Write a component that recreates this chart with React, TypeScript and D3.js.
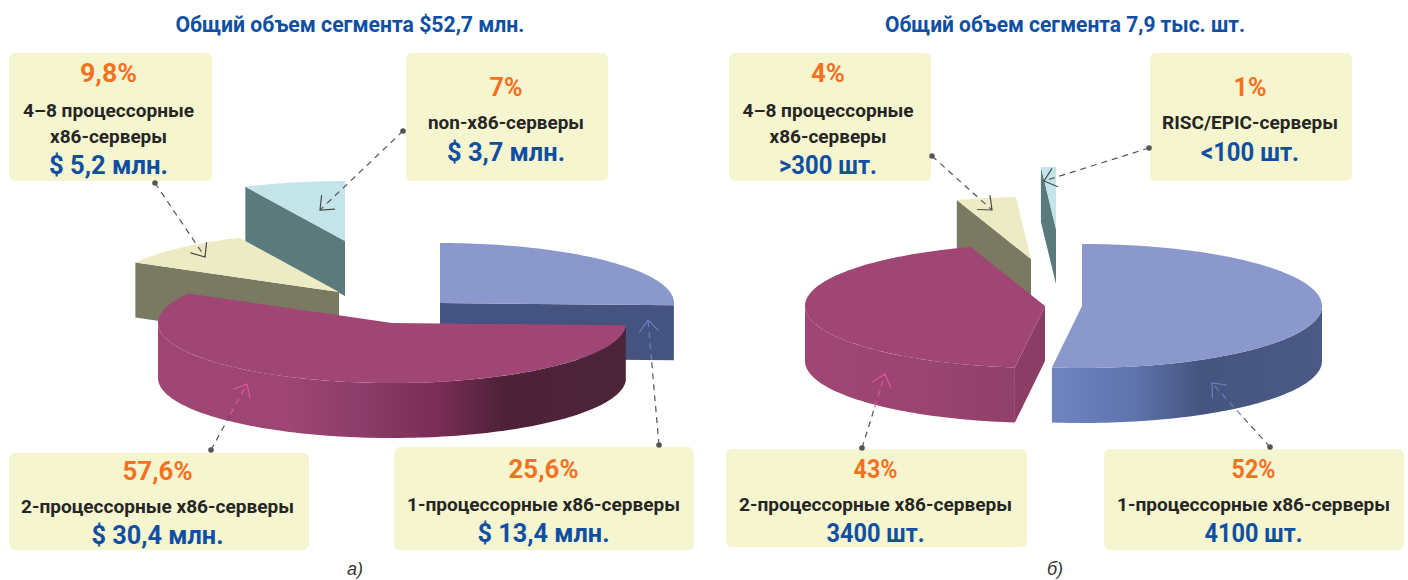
import React from "react";
import * as d3 from "d3";

// ---- data ----
const sharesA = [25.6, 57.6, 9.8, 7];
const sharesB = [52, 43, 4, 1];
const percentA = ["25,6%", "57,6%", "9,8%", "7%"];
const percentB = ["52%", "43%", "4%", "1%"];
const valuesA = ["$ 13,4 млн.", "$ 30,4 млн.", "$ 5,2 млн.", "$ 3,7 млн."];
const valuesB = ["4100 шт.", "3400 шт.", ">300 шт.", "<100 шт."];
const labelsA = [
  ["1-процессорные х86-серверы"],
  ["2-процессорные х86-серверы"],
  ["4–8 процессорные", "х86-серверы"],
  ["non-x86-серверы"],
];
const labelsB = [
  ["1-процессорные х86-серверы"],
  ["2-процессорные х86-серверы"],
  ["4–8 процессорные", "х86-серверы"],
  ["RISC/EPIC-серверы"],
];
const titleA = "Общий объем сегмента $52,7 млн.";
const titleB = "Общий объем сегмента 7,9 тыс. шт.";

// ---- layout ----
const FONT = "Roboto, 'Liberation Sans', sans-serif";
const BLUE_TEXT = "#0f4fa3";
const ORANGE = "#f4711f";
const DARK = "#252525";
const BOX = "#f5f5cf";
const ARROW = "#555";
const PINK = "#e0559f";
const ARROW_BLUE = "#6a7fc4";

const topColors = ["#8a98cb", "#a04674", "#ecebc4", "#c3e5e9"];
const wallColors = ["#44537f", "#8c3d66", "#7a7a62", "#5a7a7c"];

type Stop = [number, string];
const sideStopsA: Stop[][] = [
  [[0, "#44537f"], [1, "#44537f"]],
  [[0, "#a04674"], [0.28, "#9e4573"], [0.45, "#8a3c68"], [0.6, "#7a2c55"], [0.74, "#4e2239"], [1, "#4c2539"]],
  [[0, "#7a7a62"], [1, "#7a7a62"]],
  [[0, "#5a7a7c"], [1, "#5a7a7c"]],
];
const sideStopsB: Stop[][] = [
  [[0, "#6f85c1"], [0.3, "#5f74ad"], [0.55, "#46557f"], [1, "#4a5a85"]],
  [[0, "#a04674"], [0.6, "#9a4471"], [1, "#8f4069"]],
  [[0, "#7a7a62"], [1, "#7a7a62"]],
  [[0, "#5a7a7c"], [1, "#5a7a7c"]],
];

type Pt = [number, number];
interface BoxLayout {
  x: number; y: number; w: number; h: number; tx: number;
  pctY: number; pctW: number;
  labelY: number[]; labelW: number[];
  valueY: number; valueW: number;
}
interface PieLayout {
  id: string;
  shares: number[];
  percents: string[];
  values: string[];
  labels: string[][];
  sideStops: Stop[][];
  rx: number;
  ry: number;
  depth: number;
  centers: Pt[];
  order: number[];
  boxes: BoxLayout[];
  arrows: { from: Pt; to: Pt; split?: number; color?: string }[];
  title: string;
  titleX: number;
  titleLen: number;
  caption: string;
  captionX: number;
}

const pies: PieLayout[] = [
  {
    id: "a",
    shares: sharesA,
    percents: percentA,
    values: valuesA,
    labels: labelsA,
    sideStops: sideStopsA,
    rx: 234,
    ry: 60,
    depth: 55,
    centers: [[440, 303], [392, 323], [339, 292], [345, 241]],
    order: [3, 2, 0, 1],
    boxes: [
      { x: 394, y: 447, w: 300, h: 103, tx: 543.5, pctY: 478, pctW: 70, labelY: [511], labelW: [273], valueY: 542, valueW: 132 },
      { x: 9, y: 453, w: 300, h: 97, tx: 157.5, pctY: 480, pctW: 70, labelY: [513], labelW: [273], valueY: 544, valueW: 132 },
      { x: 9, y: 53, w: 203, h: 128, tx: 108.5, pctY: 82, pctW: 57, labelY: [117, 143], labelW: [171, 117], valueY: 174, valueW: 119 },
      { x: 406, y: 53, w: 202, h: 128, tx: 506, pctY: 96, pctW: 33, labelY: [129], labelW: [156], valueY: 161, valueW: 118 },
    ],
    arrows: [
      { from: [659, 445], to: [648, 320], split: 0.68, color: ARROW_BLUE },
      { from: [211, 450], to: [247, 384], split: 0.55, color: PINK },
      { from: [155, 183], to: [205, 257] },
      { from: [403, 131], to: [320, 210] },
    ],
    title: titleA,
    titleX: 350,
    titleLen: 349,
    caption: "а)",
    captionX: 355,
  },
  {
    id: "b",
    shares: sharesB,
    percents: percentB,
    values: valuesB,
    labels: labelsB,
    sideStops: sideStopsB,
    rx: 240,
    ry: 62,
    depth: 55,
    centers: [[1082, 306], [1045, 306], [1031, 259], [1056, 229]],
    order: [3, 2, 1, 0],
    boxes: [
      { x: 1104, y: 449, w: 300, h: 101, tx: 1253.5, pctY: 478, pctW: 44, labelY: [511], labelW: [273], valueY: 542, valueW: 98 },
      { x: 726, y: 449, w: 301, h: 98, tx: 875.5, pctY: 478, pctW: 44, labelY: [511], labelW: [273], valueY: 542, valueW: 98 },
      { x: 729, y: 53, w: 202, h: 128, tx: 828, pctY: 82, pctW: 34, labelY: [117, 143], labelW: [171, 117], valueY: 174, valueW: 98 },
      { x: 1150, y: 53, w: 202, h: 128, tx: 1250, pctY: 96, pctW: 33, labelY: [129], labelW: [176], valueY: 161, valueW: 98 },
    ],
    arrows: [
      { from: [1270, 447], to: [1212, 383], split: 0.5, color: ARROW_BLUE },
      { from: [862, 448], to: [885, 374], split: 0.55, color: PINK },
      { from: [932, 156], to: [992, 210] },
      { from: [1149, 148], to: [1044, 181] },
    ],
    title: titleB,
    titleX: 1065,
    titleLen: 360,
    caption: "б)",
    captionX: 1055,
  },
];

const pt = (c: Pt, rx: number, ry: number, a: number, dy = 0): Pt => [
  c[0] + rx * Math.sin(a),
  c[1] - ry * Math.cos(a) + dy,
];
const line = d3.line<Pt>();
const arcPts = (c: Pt, rx: number, ry: number, a0: number, a1: number, dy = 0): Pt[] => {
  const n = Math.max(2, Math.ceil(Math.abs(a1 - a0) * 40));
  return d3.range(n + 1).map((i) => pt(c, rx, ry, a0 + ((a1 - a0) * i) / n, dy));
};

function Slice({ p, i, arc }: { p: PieLayout; i: number; arc: d3.PieArcDatum<number> }) {
  const c = p.centers[i];
  const { rx, ry, depth } = p;
  const a0 = arc.startAngle;
  const a1 = arc.endAngle;
  const walls: Pt[][] = [];
  if (Math.sin(a0) < -1e-6) {
    const e = pt(c, rx, ry, a0);
    walls.push([c, e, [e[0], e[1] + depth], [c[0], c[1] + depth]]);
  }
  if (Math.sin(a1) > 1e-6) {
    const e = pt(c, rx, ry, a1);
    walls.push([c, e, [e[0], e[1] + depth], [c[0], c[1] + depth]]);
  }
  const s0 = Math.max(a0, Math.PI / 2);
  const s1 = Math.min(a1, (3 * Math.PI) / 2);
  let side: Pt[] | null = null;
  if (s1 > s0) {
    side = [...arcPts(c, rx, ry, s0, s1), ...arcPts(c, rx, ry, s1, s0, depth)];
  }
  const top: Pt[] = [c, ...arcPts(c, rx, ry, a0, a1)];
  const gid = `side-${p.id}-${i}`;
  const xs = side ? (d3.extent(side, (d) => d[0]) as [number, number]) : [0, 1];
  return (
    <g>
      <defs>
        <linearGradient id={gid} gradientUnits="userSpaceOnUse" x1={xs[0]} x2={xs[1]} y1={0} y2={0}>
          {p.sideStops[i].map(([o, col]) => (
            <stop key={o} offset={o} stopColor={col} />
          ))}
        </linearGradient>
      </defs>
      {walls.map((w, k) => (
        <path key={k} d={line(w) + "Z"} fill={wallColors[i]} />
      ))}
      {side && <path d={line(side) + "Z"} fill={`url(#${gid})`} />}
      <path d={line(top) + "Z"} fill={topColors[i]} />
    </g>
  );
}

function Arrow({ a }: { a: PieLayout["arrows"][number] }) {
  const [x0, y0] = a.from;
  const [x1, y1] = a.to;
  const ang = Math.atan2(y1 - y0, x1 - x0);
  const L = 15;
  const hx = (d: number) => x1 - L * Math.cos(ang + d);
  const hy = (d: number) => y1 - L * Math.sin(ang + d);
  const split = a.split ?? 1;
  const xm = x0 + (x1 - x0) * split;
  const ym = y0 + (y1 - y0) * split;
  const col = a.color ?? "#4a4a4a";
  return (
    <g fill="none" strokeLinecap="butt">
      <circle cx={x0} cy={y0} r={2.8} fill={ARROW} />
      <line x1={x0} y1={y0} x2={xm} y2={ym} stroke={ARROW} strokeWidth={1.2} strokeDasharray="6 5" />
      {split < 1 && <line x1={xm} y1={ym} x2={x1} y2={y1} stroke={col} strokeWidth={1.2} strokeDasharray="6 5" />}
      <path d={`M${hx(0.7)},${hy(0.7)}L${x1},${y1}L${hx(-0.7)},${hy(-0.7)}`} stroke={col} strokeWidth={1.2} />
    </g>
  );
}

function Fit(props: { x: number; y: number; w: number; size: number; fill: string; children: string }) {
  return (
    <text
      x={props.x}
      y={props.y}
      textAnchor="middle"
      fontFamily={FONT}
      fontWeight={700}
      fontSize={props.size}
      fill={props.fill}
      textLength={props.w}
      lengthAdjust="spacingAndGlyphs"
    >
      {props.children}
    </text>
  );
}

function Pie3D({ p }: { p: PieLayout }) {
  const arcs = d3.pie<number>().sort(null).value((d) => d)(p.shares);
  return (
    <g>
      <Fit x={p.titleX} y={32} w={p.titleLen} size={22} fill={BLUE_TEXT}>{p.title}</Fit>
      {p.order.map((i) => (
        <Slice key={i} p={p} i={i} arc={arcs[i]} />
      ))}
      {p.boxes.map((b, i) => (
        <g key={i}>
          <rect x={b.x} y={b.y} width={b.w} height={b.h} rx={6} fill={BOX} />
          <Fit x={b.tx} y={b.pctY} w={b.pctW} size={26} fill={ORANGE}>{p.percents[i]}</Fit>
          {p.labels[i].map((l, k) => (
            <Fit key={k} x={b.tx} y={b.labelY[k]} w={b.labelW[k]} size={18} fill={DARK}>{l}</Fit>
          ))}
          <Fit x={b.tx} y={b.valueY} w={b.valueW} size={26} fill={BLUE_TEXT}>{p.values[i]}</Fit>
        </g>
      ))}
      {p.arrows.map((a, i) => (
        <Arrow key={i} a={a} />
      ))}
      <text x={p.captionX} y={575} textAnchor="middle" fontFamily="'Liberation Sans', Arial, sans-serif" fontStyle="italic" fontSize={18} fill="#333">
        {p.caption}
      </text>
    </g>
  );
}

export default function App() {
  return (
    <svg
      width={1408}
      height={580}
      viewBox="0 0 1408 580"
      style={{ position: "absolute", left: 0, top: 0, display: "block", background: "#fff" }}
    >
      {pies.map((p) => (
        <Pie3D key={p.id} p={p} />
      ))}
    </svg>
  );
}
